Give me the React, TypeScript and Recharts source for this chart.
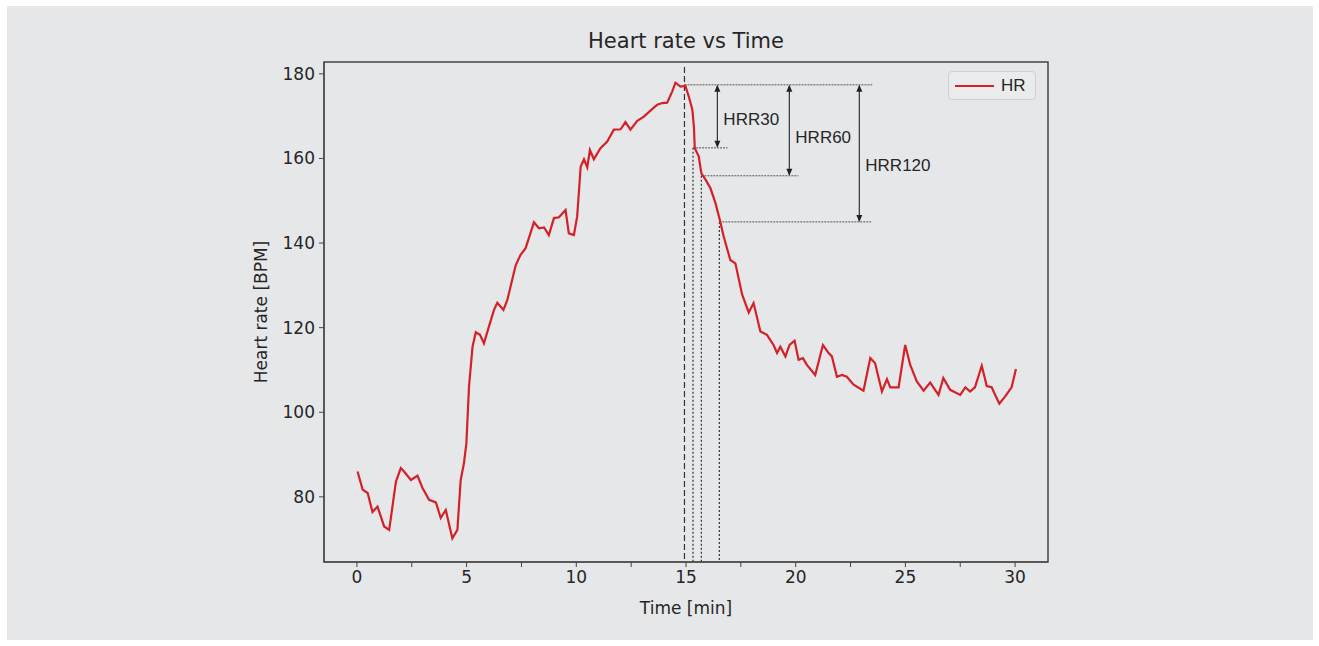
import {
  ComposedChart,
  Line,
  XAxis,
  YAxis,
  ReferenceLine,
  ReferenceArea,
  ReferenceDot,
  Legend,
} from 'recharts'

// time in minutes, heart rate in BPM
const TIME = [
  0.03, 0.26, 0.49, 0.71, 0.94, 1.24, 1.47, 1.78, 2.0, 2.15, 2.46, 2.76, 2.99, 3.29, 3.6, 3.82, 4.05, 4.35, 4.58,
  4.73, 4.88, 4.99, 5.11, 5.27, 5.42, 5.61, 5.79, 6.02, 6.25, 6.4, 6.68, 6.86, 7.24, 7.46, 7.69, 8.07, 8.3, 8.53,
  8.75, 8.98, 9.21, 9.51, 9.66, 9.89, 10.04, 10.2, 10.35, 10.5, 10.62, 10.8, 11.1, 11.41, 11.71, 12.02, 12.24, 12.47,
  12.78, 13.08, 13.38, 13.69, 13.91, 14.14, 14.37, 14.52, 14.75, 14.97, 15.13, 15.29, 15.36, 15.4, 15.58, 15.7,
  15.89, 16.11, 16.34, 16.54, 16.72, 17.02, 17.25, 17.56, 17.86, 18.08, 18.39, 18.69, 18.99, 19.15, 19.3, 19.53,
  19.72, 19.95, 20.13, 20.33, 20.51, 20.89, 21.24, 21.5, 21.65, 21.88, 22.11, 22.33, 22.64, 23.09, 23.4, 23.62,
  23.93, 24.16, 24.31, 24.69, 24.99, 25.22, 25.52, 25.83, 26.13, 26.51, 26.73, 27.04, 27.5, 27.73, 27.95, 28.17,
  28.48, 28.71, 28.93, 29.28, 29.54, 29.84, 30.04,
]
const HR = [
  86.0, 81.7, 80.9, 76.4, 77.7, 73.0, 72.2, 83.6, 86.8, 86.0, 84.0, 85.0, 82.1, 79.3, 78.7, 75.0, 76.9, 70.2, 72.2,
  84.0, 88.0, 92.7, 106.1, 115.5, 118.9, 118.3, 116.3, 120.3, 124.2, 125.9, 124.2, 126.6, 134.8, 137.2, 138.8,
  144.9, 143.5, 143.7, 141.9, 145.9, 146.1, 147.8, 142.3, 141.9, 146.3, 158.1, 159.8, 157.9, 162.0, 159.8, 162.4,
  164.0, 166.8, 166.9, 168.6, 166.8, 168.9, 169.9, 171.3, 172.7, 173.1, 173.2, 175.8, 177.9, 177.0, 177.2, 174.6,
  171.5, 167.5, 162.4, 160.5, 156.5, 155.0, 153.0, 149.5, 145.5, 141.5, 136.0, 135.2, 127.8, 123.6, 125.8, 119.1,
  118.3, 115.9, 114.0, 115.5, 113.2, 115.9, 116.9, 112.4, 112.8, 111.2, 108.8, 115.9, 114.0, 113.2, 108.4, 108.8,
  108.4, 106.5, 105.1, 112.8, 111.6, 104.9, 107.8, 105.9, 105.9, 115.9, 111.2, 107.3, 105.1, 107.0, 104.1, 108.1,
  105.3, 104.1, 105.9, 104.9, 105.9, 111.0, 106.2, 105.9, 102.0, 103.7, 105.9, 110.2,
]

const X_TICKS = [0, 2.5, 5, 7.5, 10, 12.5, 15, 17.5, 20, 22.5, 25, 27.5, 30]
const Y_TICKS = [80, 100, 120, 140, 160, 180]
const X_DOMAIN: [number, number] = [-1.5, 31.5]
const Y_DOMAIN: [number, number] = [64.6, 182.8]

// recovery annotation: peak, then levels after 30 / 60 / 120 s
const PEAK_T = 14.93
const PEAK_HR = 177.4
const HRR_NAMES = ['HRR30', 'HRR60', 'HRR120']
const HRR_T = [15.32, 15.7, 16.52]
const HRR_HR = [162.5, 155.9, 145.0]
const HRR_LINE_END = [16.89, 20.12, 23.44]
const HRR_ARROW_T = [16.43, 19.71, 22.9]
const HRR_LABEL_HR = [169.4, 165.0, 158.4]
const PEAK_LINE_END = 23.49

const data = TIME.map((t, i) => ({ t, hr: HR[i] }))

const TEXT = '#262626'
const FONT = 'DejaVu Sans'

function Arrow(props: any) {
  const { x1, y1, x2, y2 } = props
  const top = Math.min(y1, y2)
  const bot = Math.max(y1, y2)
  const x = x1
  return (
    <g>
      <line x1={x} y1={top + 1} x2={x} y2={bot - 1} stroke="#333" strokeWidth={1.2} />
      <polygon points={`${x},${top} ${x - 3},${top + 7} ${x + 3},${top + 7}`} fill="#222" />
      <polygon points={`${x},${bot} ${x - 3},${bot - 7} ${x + 3},${bot - 7}`} fill="#222" />
    </g>
  )
}

function LegendBox() {
  return (
    <div
      style={{
        width: 88,
        height: 29,
        border: '1px solid #cfd0d2',
        borderRadius: 4,
        background: '#eaebec',
        display: 'flex',
        alignItems: 'center',
        boxSizing: 'border-box',
      }}
    >
      <svg width={52} height={10}>
        <line x1={6} y1={5} x2={45} y2={5} stroke="#d42026" strokeWidth={2.2} />
      </svg>
      <span style={{ fontFamily: 'Liberation Sans', fontSize: 17, color: TEXT }}>HR</span>
    </div>
  )
}

export default function App() {
  return (
    <div style={{ position: 'absolute', left: 0, top: 0, width: 1319, height: 646, background: '#fff' }}>
      <div style={{ position: 'absolute', left: 7, top: 6, width: 1306, height: 634, background: '#e6e7e9' }} />
      <div
        style={{
          position: 'absolute',
          left: 324,
          top: 29,
          width: 724,
          textAlign: 'center',
          fontFamily: FONT,
          fontSize: 21,
          color: TEXT,
        }}
      >
        Heart rate vs Time
      </div>
      <div style={{ position: 'absolute', left: 0, top: 0 }}>
        <ComposedChart width={1319} height={646} data={data} margin={{ top: 62, right: 271, bottom: 28, left: 198 }}>
          <XAxis
            type="number"
            dataKey="t"
            domain={X_DOMAIN}
            allowDataOverflow
            ticks={X_TICKS}
            interval={0}
            tickFormatter={(v: number) => (v % 5 === 0 ? String(v) : '')}
            height={56}
            tickSize={5}
            tickMargin={4}
            stroke="#444"
            tick={{ fill: TEXT, fontSize: 17, fontFamily: FONT }}
            label={{ value: 'Time [min]', position: 'insideBottom', offset: 4, fill: TEXT, fontSize: 17, fontFamily: FONT }}
          />
          <YAxis
            type="number"
            domain={Y_DOMAIN}
            allowDataOverflow
            ticks={Y_TICKS}
            interval={0}
            width={126}
            tickSize={5}
            tickMargin={4}
            stroke="#444"
            tick={{ fill: TEXT, fontSize: 17, fontFamily: FONT }}
            label={{ value: 'Heart rate [BPM]', angle: -90, position: 'center', fill: TEXT, fontSize: 17, fontFamily: FONT }}
          />
          <ReferenceArea
            x1={X_DOMAIN[0]}
            x2={X_DOMAIN[1]}
            y1={Y_DOMAIN[0]}
            y2={Y_DOMAIN[1]}
            fill="none"
            stroke="#444"
            strokeWidth={1.5}
            fillOpacity={0}
            strokeOpacity={1}
          />
          <ReferenceLine
            segment={[
              { x: PEAK_T, y: 181.6 },
              { x: PEAK_T, y: Y_DOMAIN[0] },
            ]}
            stroke="#333"
            strokeDasharray="6 3"
            strokeWidth={1.2}
          />
          <ReferenceLine
            segment={[
              { x: PEAK_T, y: PEAK_HR },
              { x: PEAK_LINE_END, y: PEAK_HR },
            ]}
            stroke="#555"
            strokeDasharray="2 1"
            strokeWidth={1}
          />
          {HRR_NAMES.map((name, i) => (
            <ReferenceLine
              key={name + 'v'}
              segment={[
                { x: HRR_T[i], y: HRR_HR[i] },
                { x: HRR_T[i], y: Y_DOMAIN[0] },
              ]}
              stroke="#333"
              strokeDasharray="2 2"
              strokeWidth={1.2}
            />
          ))}
          {HRR_NAMES.map((name, i) => (
            <ReferenceLine
              key={name + 'h'}
              segment={[
                { x: HRR_T[i], y: HRR_HR[i] },
                { x: HRR_LINE_END[i], y: HRR_HR[i] },
              ]}
              stroke="#555"
              strokeDasharray="2 1"
              strokeWidth={1}
            />
          ))}
          {HRR_NAMES.map((name, i) => (
            <ReferenceLine
              key={name + 'a'}
              segment={[
                { x: HRR_ARROW_T[i], y: PEAK_HR },
                { x: HRR_ARROW_T[i], y: HRR_HR[i] },
              ]}
              shape={Arrow}
            />
          ))}
          {HRR_NAMES.map((name, i) => (
            <ReferenceDot
              key={name + 'l'}
              x={HRR_ARROW_T[i]}
              y={HRR_LABEL_HR[i]}
              r={0}
              fill="none"
              stroke="none"
              label={{ value: name, position: 'right', offset: 6, fill: TEXT, fontSize: 17, fontFamily: 'Liberation Sans' }}
            />
          ))}
          <Line
            type="linear"
            dataKey="hr"
            name="HR"
            stroke="#d42026"
            strokeWidth={2.2}
            dot={false}
            isAnimationActive={false}
          />
          <Legend
            layout="horizontal"
            verticalAlign="middle"
            align="center"
            content={() => <LegendBox />}
            wrapperStyle={{ top: 71, left: 948, width: 88, height: 29 }}
          />
        </ComposedChart>
      </div>
    </div>
  )
}
